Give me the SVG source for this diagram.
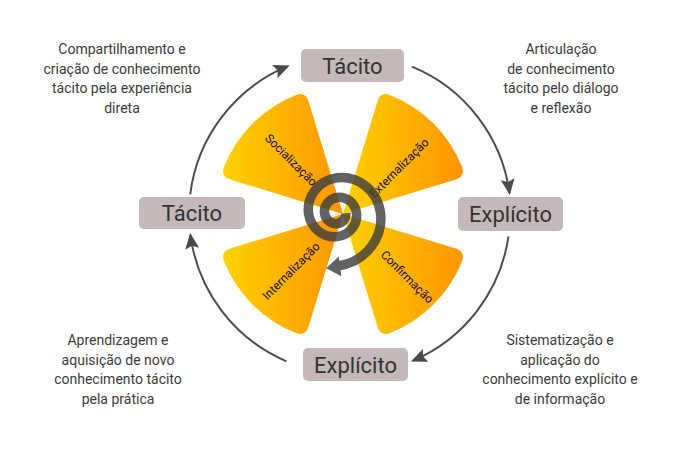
<svg xmlns="http://www.w3.org/2000/svg" width="680" height="450" viewBox="0 0 680 450">
<defs>
<linearGradient id="pg" x1="0" y1="0" x2="1" y2="0">
<stop offset="0" stop-color="#FFD100"/>
<stop offset="1" stop-color="#FF9500"/>
</linearGradient>
<marker id="ah" markerUnits="userSpaceOnUse" markerWidth="16" markerHeight="14" refX="14" refY="7" orient="auto" viewBox="0 0 16 14">
<path d="M0,0 L16,7 L0,14 L3,7 z" fill="#4a4a4a"/>
</marker>
<style>
.desc{font-family:Roboto,"Liberation Sans",sans-serif;font-size:14px;font-weight:400;fill:#3a3a3a;text-anchor:middle}
.box{fill:#c5b8b8}
.boxt{font-family:Roboto,"Liberation Sans",sans-serif;font-size:22px;fill:#333;text-anchor:middle}
.pl{font-family:Roboto,"Liberation Sans",sans-serif;font-size:12px;fill:#111;text-anchor:middle}
.petal{fill:url(#pg)}
.arc{fill:none;stroke:#4d4d4d;stroke-width:2;marker-end:url(#ah)}
</style>
</defs>
<rect width="680" height="450" fill="#fff"/>

<g id="petals">
<g id="petal-socializacao">
<path class="petal" d="M343,214 L230.2,179.5 Q220.6,176.6 223.9,167.1 A128,128 0 0 1 296.1,94.9 Q305.6,91.6 308.5,101.2 Z"/>
<text class="pl" transform="translate(291,160) rotate(45)" y="4">Socialização</text>
</g>
<g id="petal-externalizacao">
<path class="petal" d="M343,214 L377.5,101.2 Q380.4,91.6 389.9,94.9 A128,128 0 0 1 462.1,167.1 Q465.4,176.6 455.8,179.5 Z"/>
<text class="pl" transform="translate(399,168) rotate(-45)" y="4">Externalização</text>
</g>
<g id="petal-confirmacao">
<path class="petal" d="M343,214 L455.8,248.5 Q465.4,251.4 462.1,260.9 A128,128 0 0 1 389.9,333.1 Q380.4,336.4 377.5,326.8 Z"/>
<text class="pl" transform="translate(407,277) rotate(45)" y="4">Confirmação</text>
</g>
<g id="petal-internalizacao">
<path class="petal" d="M343,214 L308.5,326.8 Q305.6,336.4 296.1,333.1 A128,128 0 0 1 223.9,260.9 Q220.6,251.4 230.2,248.5 Z"/>
<text class="pl" transform="translate(291,271) rotate(-45)" y="4">Internalização</text>
</g>
</g>

<g id="spiral" opacity="0.82">
<path fill="none" stroke="#404040" stroke-width="9.5" d="M345.82,213.1 C346.11,215.33 345.49,217.8 343.97,219.77 C342.45,221.74 340.03,223.19 337.3,223.54 C334.57,223.89 331.54,223.13 329.13,221.27 C326.72,219.41 324.95,216.45 324.52,213.1 C324.09,209.75 325.02,206.06 327.3,203.1 C329.58,200.14 333.2,197.97 337.3,197.44 C341.4,196.91 345.93,198.06 349.55,200.85 C353.17,203.64 355.83,208.08 356.48,213.1 C357.13,218.12 355.73,223.67 352.31,228.11 C348.89,232.55 343.45,235.81 337.3,236.6 C331.15,237.4 324.35,235.68 318.91,231.49 C313.47,227.3 309.48,220.64 308.51,213.1 C307.54,205.56 309.63,197.23 314.77,190.57 C319.91,183.91 328.07,179.02 337.3,177.83 C346.53,176.64 356.74,179.21 364.9,185.5 C373.06,191.79 379.04,201.79 380.5,213.1 C381.96,224.41 378.82,236.92 371.11,246.91 C363.4,256.9 351.15,264.23 337.3,266.02"/>
<path fill="#404040" d="M326.2,268.2 L338.7,256.4 L341.3,276.2 Z"/>
</g>

<g id="connectors">
<path class="arc" d="M190.2,194.5 A160,160 0 0 1 287.8,66.2"/>
<path class="arc" d="M412,66.7 A160,160 0 0 1 509.5,193"/>
<path class="arc" d="M508.5,236.3 A160,160 0 0 1 412.8,360.7"/>
<path class="arc" d="M286.5,361.3 A160,160 0 0 1 190.4,234.9"/>
</g>

<g id="node-tacito-top">
<rect class="box" x="301" y="49" width="103" height="33" rx="5"/>
<text class="boxt" x="352.5" y="73.5">Tácito</text>
</g>
<g id="node-tacito-left">
<rect class="box" x="139" y="197" width="106" height="32" rx="5"/>
<text class="boxt" x="192" y="221">Tácito</text>
</g>
<g id="node-explicito-right">
<rect class="box" x="458" y="197" width="105" height="34" rx="5"/>
<text class="boxt" x="510.5" y="222">Explícito</text>
</g>
<g id="node-explicito-bottom">
<rect class="box" x="303" y="348" width="105" height="33" rx="5"/>
<text class="boxt" x="355.5" y="372.5">Explícito</text>
</g>

<g id="label-tl">
<text class="desc" x="122" y="54">Compartilhamento e</text>
<text class="desc" x="122" y="73.5">criação de conhecimento</text>
<text class="desc" x="122" y="93">tácito pela experiência</text>
<text class="desc" x="122" y="112.5">direta</text>
</g>
<g id="label-tr">
<text class="desc" x="561" y="54">Articulação</text>
<text class="desc" x="561" y="73.5">de conhecimento</text>
<text class="desc" x="561" y="93">tácito pelo diálogo</text>
<text class="desc" x="561" y="112.5">e reflexão</text>
</g>
<g id="label-bl">
<text class="desc" x="118" y="345">Aprendizagem e</text>
<text class="desc" x="118" y="364.5">aquisição de novo</text>
<text class="desc" x="118" y="384">conhecimento tácito</text>
<text class="desc" x="118" y="403.5">pela prática</text>
</g>
<g id="label-br">
<text class="desc" x="560" y="345">Sistematização e</text>
<text class="desc" x="560" y="364.5">aplicação do</text>
<text class="desc" x="560" y="384">conhecimento explícito e</text>
<text class="desc" x="560" y="403.5">de informação</text>
</g>
</svg>
